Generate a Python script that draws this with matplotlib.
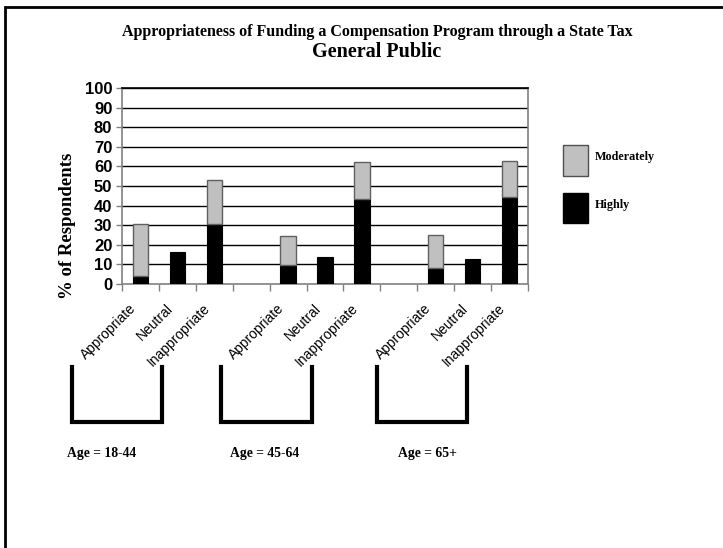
import matplotlib
matplotlib.use("Agg")
import matplotlib.pyplot as plt
from matplotlib.lines import Line2D
from matplotlib.patches import Rectangle
import numpy as np

# Survey results: share of respondents (%) by age group and response
age_groups = ["Age = 18-44", "Age = 45-64", "Age = 65+"]
responses = ["Appropriate", "Neutral", "Inappropriate"]
highly = [
    [4.0, 16.2, 30.4],   # 18-44
    [9.7, 13.7, 43.5],   # 45-64
    [8.0, 12.8, 44.5],   # 65+
]
moderately = [
    [26.5, 0.0, 22.5],
    [14.5, 0.0, 18.6],
    [16.9, 0.0, 18.1],
]
y_ticks = [0, 10, 20, 30, 40, 50, 60, 70, 80, 90, 100]

W, H = 723, 548
fig = plt.figure(figsize=(W / 100, H / 100), dpi=100)
fig.patch.set_facecolor("white")

ax = fig.add_axes([122 / W, 1 - 283.7 / H, 406 / W, 195.4 / H])

# slot positions: three bars per group with an empty slot between groups
positions, hi_vals, mod_vals, labels = [], [], [], []
for g in range(len(age_groups)):
    for r in range(len(responses)):
        positions.append(g * 4 + r)
        hi_vals.append(highly[g][r])
        mod_vals.append(moderately[g][r])
        labels.append(responses[r])
positions = np.array(positions)
hi_vals = np.array(hi_vals)
mod_vals = np.array(mod_vals)

for y in y_ticks[1:]:
    ax.axhline(y, color="black", lw=1.0, zorder=1)

bw = 0.42
ax.bar(positions, hi_vals, width=bw, color="black", edgecolor="black",
       linewidth=0.8, zorder=3)
has_mod = mod_vals > 0
ax.bar(positions[has_mod], mod_vals[has_mod], width=bw, bottom=hi_vals[has_mod],
       color="#c0c0c0", edgecolor="#606060", linewidth=1.0, zorder=3)

ax.set_xlim(-0.5, 10.5)
ax.set_ylim(0, 100)
ax.set_yticks(y_ticks)
ax.set_yticklabels([str(v) for v in y_ticks], fontfamily="Liberation Sans",
                   fontweight="bold", fontsize=12)
ax.tick_params(axis="y", length=4, width=1, color="#808080", pad=3)

# category ticks sit between slots
ax.set_xticks(np.arange(-0.5, 11, 1.0))
ax.set_xticklabels([])
ax.tick_params(axis="x", length=5, width=1, color="#808080", direction="out")
for p, lab in zip(positions, labels):
    ax.text(p - 0.31, -9.0, lab, rotation=45, ha="right", va="top",
            rotation_mode="anchor", fontfamily="Liberation Sans", fontsize=10,
            transform=ax.transData, clip_on=False)

for side in ["left", "right", "bottom", "top"]:
    ax.spines[side].set_color("#808080")
    ax.spines[side].set_linewidth(1.2)
ax.spines["top"].set_color("black")

ax.set_ylabel("% of Respondents", fontfamily="Liberation Serif",
              fontweight="bold", fontsize=13.5)
ax.yaxis.set_label_coords(-0.113, 0.295)

# titles
fig.text(377 / W, 1 - 31.5 / H,
         "Appropriateness of Funding a Compensation Program through a State Tax",
         ha="center", va="center", fontfamily="Liberation Serif",
         fontweight="bold", fontsize=11.5)
fig.text(377 / W, 1 - 52 / H, "General Public", ha="center", va="center",
         fontfamily="Liberation Serif", fontweight="bold", fontsize=14.5)

# legend
fig.patches.append(Rectangle((563 / W, 1 - 176 / H), 25 / W, 31 / H,
                             transform=fig.transFigure, facecolor="#c0c0c0",
                             edgecolor="#505050", linewidth=1.0))
fig.patches.append(Rectangle((563 / W, 1 - 223 / H), 25 / W, 30 / H,
                             transform=fig.transFigure, facecolor="black",
                             edgecolor="black", linewidth=1.0))
fig.text(595 / W, 1 - 157 / H, "Moderately", ha="left", va="center",
         fontfamily="Liberation Serif", fontweight="bold", fontsize=8.7)
fig.text(595 / W, 1 - 205 / H, "Highly", ha="left", va="center",
         fontfamily="Liberation Serif", fontweight="bold", fontsize=8.7)

# group brackets and age labels
brackets = [(72, 162), (221, 312), (377, 467)]
label_x = [67, 230, 398]
for (x0, x1), lx, name in zip(brackets, label_x, age_groups):
    xs = np.array([x0, x0, x1, x1]) / W
    ys = 1 - np.array([367, 422, 422, 367]) / H
    fig.lines.append(Line2D(xs, ys, transform=fig.transFigure, color="black",
                            linewidth=3, solid_joinstyle="miter"))
    fig.text(lx / W, 1 - 453 / H, name, ha="left", va="center",
             fontfamily="Liberation Serif", fontweight="bold", fontsize=9.8)

# page frame (top and left edges)
fig.lines.append(Line2D([5 / W, 5 / W, 1.0], [0.0, 1 - 6.5 / H, 1 - 6.5 / H],
                        transform=fig.transFigure, color="black", linewidth=2,
                        solid_joinstyle="miter"))

fig.savefig("out.png", dpi=100)
